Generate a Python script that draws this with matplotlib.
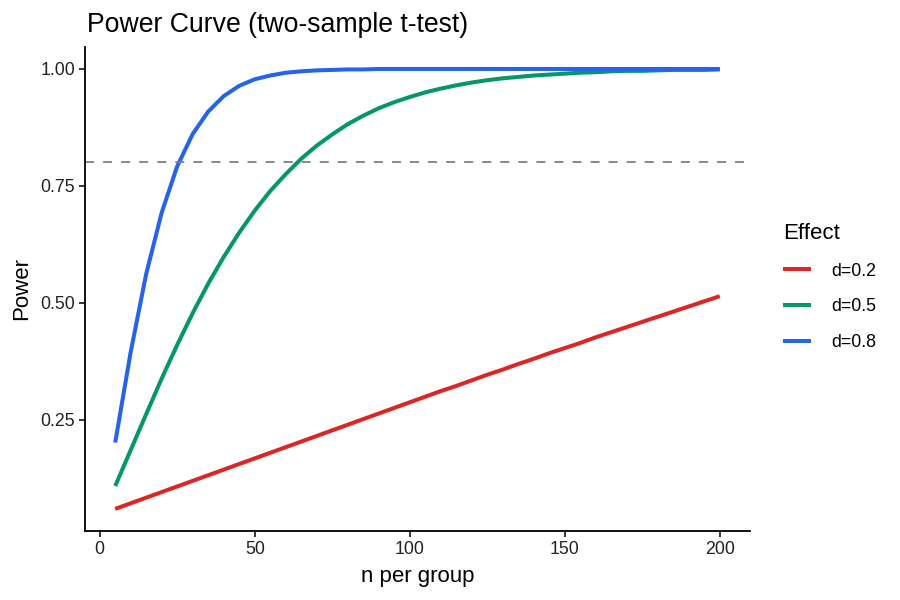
import matplotlib
matplotlib.use('AGG')
import matplotlib.pyplot as plt

# sample size per group
n_per_group = [5, 10, 15, 20, 25, 30, 35, 40, 45, 50, 55, 60, 65, 70, 75, 80, 85, 90, 95, 100,
               105, 110, 115, 120, 125, 130, 135, 140, 145, 150, 155, 160, 165, 170, 175, 180,
               185, 190, 195, 200]

# power
power_d02 = [0.059, 0.071, 0.083, 0.095, 0.107, 0.119, 0.131, 0.143, 0.155, 0.167, 0.179, 0.191,
             0.203, 0.215, 0.227, 0.239, 0.251, 0.263, 0.275, 0.287, 0.299, 0.311, 0.322, 0.334,
             0.346, 0.357, 0.369, 0.380, 0.392, 0.403, 0.414, 0.426, 0.437, 0.448, 0.459, 0.470,
             0.481, 0.492, 0.503, 0.514]
power_d05 = [0.108, 0.185, 0.262, 0.338, 0.410, 0.478, 0.541, 0.598, 0.650, 0.697, 0.739, 0.775,
             0.808, 0.836, 0.860, 0.882, 0.900, 0.916, 0.929, 0.940, 0.950, 0.958, 0.965, 0.971,
             0.976, 0.980, 0.983, 0.986, 0.988, 0.990, 0.992, 0.993, 0.995, 0.996, 0.996, 0.997,
             0.998, 0.998, 0.998, 0.999]
power_d08 = [0.201, 0.395, 0.562, 0.693, 0.792, 0.861, 0.909, 0.942, 0.964, 0.978, 0.986, 0.992,
             0.995, 0.997, 0.998, 0.999, 0.999, 1.000, 1.000, 1.000, 1.000, 1.000, 1.000, 1.000,
             1.000, 1.000, 1.000, 1.000, 1.000, 1.000, 1.000, 1.000, 1.000, 1.000, 1.000, 1.000,
             1.000, 1.000, 1.000, 1.000]

effect_labels = ['d=0.2', 'd=0.5', 'd=0.8']
effect_colors = ['#DC2626', '#059669', '#2563EB']
target_power = 0.8

plt.rcParams['font.family'] = ['Liberation Sans', 'DejaVu Sans']

fig = plt.figure(figsize=(9, 6), dpi=100)
ax = fig.add_axes([85 / 900, 1 - 531 / 600, 665 / 900, 484 / 600])

for vals, lab, col in zip([power_d02, power_d05, power_d08], effect_labels, effect_colors):
    ax.plot(n_per_group, vals, color=col, linewidth=2.9, label=lab, solid_capstyle='butt')

ax.axhline(target_power, color='#7F7F7F', linewidth=1.3, linestyle=(0, (5, 5)))

ax.set_xlim(-4.75, 209.75)
ax.set_ylim(0.0117, 1.047)
ax.set_xticks([0, 50, 100, 150, 200])
ax.set_yticks([0.25, 0.50, 0.75, 1.00])
ax.set_yticklabels(['0.25', '0.50', '0.75', '1.00'])

for side in ['top', 'right']:
    ax.spines[side].set_visible(False)
for side in ['left', 'bottom']:
    ax.spines[side].set_linewidth(1.3)
ax.tick_params(axis='both', length=4, width=1.1, labelsize=12.8, colors='black',
               labelcolor='#222222', pad=3)

ax.set_xlabel('n per group', fontsize=16, labelpad=6)
ax.set_ylabel('Power', fontsize=16, labelpad=6)
fig.text(87 / 900, 1 - 32 / 600, 'Power Curve (two-sample t-test)', fontsize=19.2,
         ha='left', va='baseline')

leg = ax.legend(title='Effect', loc='upper left', bbox_to_anchor=(767 / 900, 1 - 207 / 600),
                bbox_transform=fig.transFigure, frameon=False, fontsize=12.8,
                title_fontsize=16, handlelength=1.6, handletextpad=1.1, labelspacing=1.05)
leg._legend_box.align = 'left'

fig.savefig('out.png', dpi=100)
